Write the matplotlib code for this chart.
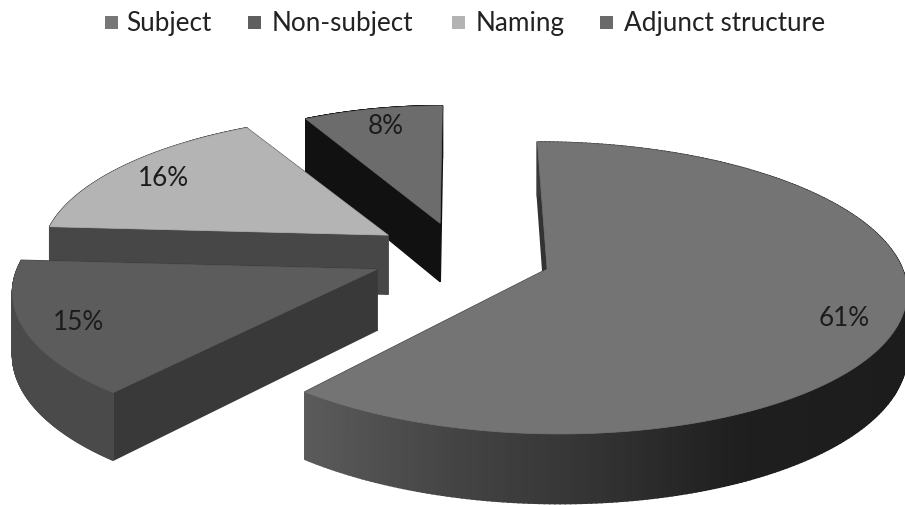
import numpy as np
import matplotlib
matplotlib.use("Agg")
import matplotlib.pyplot as plt
from matplotlib.patches import Polygon, Rectangle

categories = ["Subject", "Non-subject", "Naming", "Adjunct structure"]
shares = [61, 15, 16, 8]
labels = ["61%", "15%", "16%", "8%"]

top_colors = ["#747474", "#5c5c5c", "#b4b4b4", "#6c6c6c"]
key_colors = ["#777777", "#5f5f5f", "#b3b3b3", "#6a6a6a"]
face_colors = ["#333333", "#393939", "#474747", "#111111"]
label_pos = [(844, 319), (78, 323), (163, 179), (386, 126)]
key_x = [105, 248, 452, 600]
text_x = [126, 272, 476, 624]

# per slice placement tweaks on top of the explode
slice_dx = [4, 4, 6, 5]
slice_dy = [0, -2, -3, 0]
width_scale = [0.99, 1.0, 0.98, 0.91]

# pie projection
CX, CY = 457, 257
RX, RY = 355, 140.4
PERSP = 0.127
EXPLODE = 0.255
DEPTH = 60


def project(u, v):
    s = 1 / (1 + PERSP * v)
    return CX + RX * u * s, CY - RY * v * s, s


def arc_color(x):
    g = np.interp(x, [300, 450, 600, 740, 900], [0.36, 0.27, 0.2, 0.12, 0.11])
    return (g, g, g)


def draw_quad(ax, p0, p1, color, z):
    # side panel between two top-surface points, extruded downwards
    ax.add_patch(Polygon([(p0[0], p0[1]), (p1[0], p1[1]),
                          (p1[0], p1[1] + DEPTH * p1[2]), (p0[0], p0[1] + DEPTH * p0[2])],
                         closed=True, fc=color, ec=color, lw=1.2, zorder=z))


fig = plt.figure(figsize=(9.05, 5.05), dpi=100)
ax = fig.add_axes([0, 0, 1, 1])
ax.set_xlim(0, 905)
ax.set_ylim(505, 0)
ax.axis("off")

fracs = np.array(shares) / sum(shares)
starts = np.concatenate([[0], np.cumsum(fracs)[:-1]]) * 2 * np.pi
ends = np.cumsum(fracs) * 2 * np.pi

# back slices first so the front ones overlap them
for i in [3, 2, 1, 0]:
    z = 10 * (4 - i)
    mid = (starts[i] + ends[i]) / 2
    ou, ov = EXPLODE * np.sin(mid), EXPLODE * np.cos(mid)
    t = np.linspace(starts[i], ends[i], 300)
    xs, ys, ss = project(ou + np.sin(t), ov + np.cos(t))
    apex = project(ou, ov)
    xs = apex[0] + (xs - apex[0]) * width_scale[i] + slice_dx[i]
    ys = ys + slice_dy[i]
    apex = (apex[0] + slice_dx[i], apex[1] + slice_dy[i], apex[2])
    first = (xs[0], ys[0], ss[0])
    last = (xs[-1], ys[-1], ss[-1])

    # flat cut faces, the one further back goes first
    cuts = [(first, np.cos(starts[i])), (last, np.cos(ends[i]))]
    cuts.sort(key=lambda c: -c[1])
    for n, (pt, _) in enumerate(cuts):
        draw_quad(ax, apex, pt, face_colors[i], z + n)

    # rim of the slice
    for j in range(len(t) - 1):
        p0 = (xs[j], ys[j], ss[j])
        p1 = (xs[j + 1], ys[j + 1], ss[j + 1])
        if i == 0:
            c = arc_color(xs[j])
        else:
            c = "#4a4a4a" if i == 1 else face_colors[i]
        draw_quad(ax, p0, p1, c, z + 2)

    pts = [(apex[0], apex[1])] + list(zip(xs, ys))
    ax.add_patch(Polygon(pts, closed=True, fc=top_colors[i], ec=top_colors[i], lw=0.5, zorder=z + 3))

    ax.text(label_pos[i][0], label_pos[i][1], labels[i], ha="center", va="center",
            fontsize=18.8, family="Lato", color="#1c1c1c", zorder=60)

for name, kx, tx, col in zip(categories, key_x, text_x, key_colors):
    ax.add_patch(Rectangle((kx, 16), 13, 13, fc=col, ec="none", zorder=60))
    ax.text(tx, 23, name, ha="left", va="center", fontsize=18.8, family="Lato",
            color="#222222", zorder=60)

fig.savefig("out.png", dpi=100)
